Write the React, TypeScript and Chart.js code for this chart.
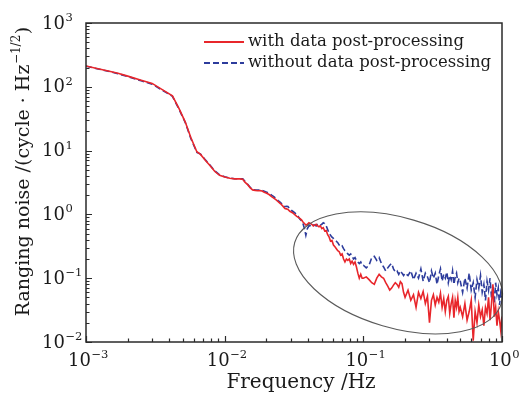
import React, { useEffect, useRef } from 'react';
import { Chart, registerables } from 'chart.js';

Chart.register(...registerables);

// ---------- data (frequency in Hz, noise in cycle/Hz^1/2) ----------
const freqA = [0.001, 0.0012, 0.0015, 0.0017, 0.002, 0.0025, 0.003, 0.0035, 0.0042, 0.0047, 0.0052, 0.0057, 0.0063, 0.0067, 0.0072, 0.0078, 0.0085, 0.0092, 0.01, 0.0109, 0.0118, 0.0128, 0.0135];
const withA = [212, 194, 174, 163, 147, 127, 113, 92, 72, 45, 28, 16, 9.6, 8.7, 7.2, 5.9, 4.7, 4.1, 3.85, 3.68, 3.6, 3.6, 3.55];
const withoutA = [210, 192, 172, 160, 145, 124, 110, 90, 71, 44, 27.5, 15.5, 9.4, 8.8, 7.3, 6.0, 4.8, 4.15, 3.9, 3.7, 3.62, 3.62, 3.6];

const freqB = [0.014, 0.0147, 0.0153, 0.0159, 0.0166, 0.0173, 0.018, 0.0186, 0.0193, 0.0201,
  0.0209, 0.0218, 0.0226, 0.0234, 0.0243, 0.0252, 0.0262, 0.0272, 0.0279, 0.0286,
  0.0295, 0.0304, 0.0313, 0.0322, 0.0331, 0.034, 0.0348, 0.0358, 0.0367, 0.0376,
  0.0385, 0.0395, 0.0405, 0.0415, 0.0425, 0.0436, 0.0446, 0.0457, 0.0468, 0.0479,
  0.049, 0.0502, 0.0514, 0.0527, 0.054, 0.0553, 0.0567, 0.058, 0.0594, 0.0609,
  0.0624, 0.0639, 0.0654, 0.067, 0.0686, 0.0703, 0.072, 0.0737, 0.0755, 0.0773,
  0.0792, 0.0811, 0.083, 0.085, 0.0871, 0.0892, 0.0913, 0.0935, 0.0958, 0.098];
const withB = [3.2, 2.9, 2.6, 2.42, 2.38, 2.35, 2.36, 2.32, 2.22, 2.15,
  2.05, 1.9, 1.8, 1.7, 1.58, 1.48, 1.36, 1.24, 1.22, 1.2,
  1.12, 1.08, 1.04, 0.98, 0.93, 0.9, 0.87, 0.82, 0.76, 0.72,
  0.68, 0.7, 0.74, 0.72, 0.7, 0.66, 0.68, 0.7, 0.66, 0.64,
  0.66, 0.6, 0.62, 0.55, 0.56, 0.48, 0.44, 0.38, 0.39, 0.33,
  0.31, 0.29, 0.27, 0.26, 0.23, 0.24, 0.2, 0.18, 0.2, 0.19,
  0.2, 0.17, 0.185, 0.165, 0.18, 0.15, 0.12, 0.1, 0.115, 0.1];
const withoutB = [3.3, 2.95, 2.65, 2.45, 2.42, 2.4, 2.42, 2.38, 2.3, 2.22,
  2.15, 2.0, 1.9, 1.78, 1.65, 1.55, 1.42, 1.32, 1.34, 1.33,
  1.22, 1.15, 1.1, 1.05, 0.98, 0.92, 0.85, 0.8, 0.72, 0.6,
  0.47, 0.6, 0.66, 0.66, 0.64, 0.68, 0.68, 0.66, 0.7, 0.72,
  0.68, 0.7, 0.74, 0.72, 0.66, 0.58, 0.5, 0.47, 0.44, 0.42,
  0.4, 0.38, 0.36, 0.33, 0.31, 0.32, 0.29, 0.27, 0.26, 0.24,
  0.23, 0.24, 0.22, 0.2, 0.21, 0.19, 0.18, 0.17, 0.18, 0.16];

const freqC = [0.1, 0.105, 0.11, 0.115, 0.12, 0.125, 0.13, 0.135, 0.14, 0.145,
  0.15, 0.155, 0.16, 0.165, 0.17, 0.175, 0.18, 0.185, 0.19, 0.195];
const withC = [0.1, 0.105, 0.095, 0.085, 0.08, 0.1, 0.115, 0.105, 0.1, 0.085,
  0.075, 0.065, 0.07, 0.078, 0.085, 0.08, 0.072, 0.088, 0.082, 0.06];
const withoutC = [0.16, 0.145, 0.16, 0.21, 0.22, 0.19, 0.21, 0.17, 0.15, 0.13,
  0.145, 0.16, 0.17, 0.14, 0.125, 0.13, 0.115, 0.13, 0.12, 0.11];

const freqD = [0.2, 0.21, 0.22, 0.23, 0.24, 0.25, 0.26, 0.27, 0.28, 0.29,
  0.3, 0.31, 0.32, 0.33, 0.34, 0.35, 0.36, 0.37, 0.38, 0.39,
  0.4, 0.41, 0.42, 0.43, 0.44, 0.45, 0.46, 0.47, 0.48, 0.49];
const withD = [0.05, 0.065, 0.045, 0.055, 0.035, 0.06, 0.048, 0.062, 0.04, 0.052,
  0.02, 0.045, 0.055, 0.038, 0.05, 0.042, 0.058, 0.035, 0.048, 0.03,
  0.045, 0.052, 0.028, 0.04, 0.05, 0.024, 0.045, 0.035, 0.05, 0.03];
const withoutD = [0.12, 0.11, 0.13, 0.095, 0.12, 0.1, 0.14, 0.09, 0.12, 0.105,
  0.085, 0.13, 0.1, 0.12, 0.08, 0.11, 0.14, 0.09, 0.115, 0.1,
  0.125, 0.085, 0.11, 0.095, 0.13, 0.08, 0.105, 0.12, 0.085, 0.1];

const freqE = [0.5, 0.52, 0.54, 0.56, 0.58, 0.6, 0.62, 0.64, 0.66, 0.68,
  0.7, 0.72, 0.74, 0.76, 0.78, 0.8, 0.82, 0.84, 0.86, 0.88,
  0.9, 0.92, 0.94, 0.96, 0.98, 1.0];
const withE = [0.035, 0.025, 0.04, 0.022, 0.03, 0.045, 0.0105, 0.03, 0.02, 0.038,
  0.025, 0.032, 0.018, 0.035, 0.028, 0.05, 0.022, 0.04, 0.08, 0.025,
  0.035, 0.018, 0.03, 0.022, 0.015, 0.025];
const withoutE = [0.09, 0.06, 0.1, 0.07, 0.12, 0.065, 0.085, 0.05, 0.095, 0.07,
  0.11, 0.06, 0.08, 0.045, 0.09, 0.065, 0.1, 0.05, 0.075, 0.04,
  0.085, 0.055, 0.07, 0.038, 0.06, 0.05];

const frequencies = [...freqA, ...freqB, ...freqC, ...freqD, ...freqE];
const withPost = [...withA, ...withB, ...withC, ...withD, ...withE];
const withoutPost = [...withoutA, ...withoutB, ...withoutC, ...withoutD, ...withoutE];

const seriesLabels = ['with data post-processing', 'without data post-processing'];
const xTickExponents = [-3, -2, -1, 0];
const yTickExponents = [-2, -1, 0, 1, 2, 3];
const xTitle = 'Frequency /Hz';
const yTitleMain = 'Ranging noise /(cycle \u00B7 Hz';
const yTitleSup = '\u22121/2';
const yTitleEnd = ')';

// highlighted region (data units for centre, x-decades for semi-axes)
const ellipseCenter = { f: 0.178, v: 0.121 };
const ellipseAxesDecades = { a: 0.777, b: 0.397 };
const ellipseAngleDeg = 16.4;

// ---------- styling ----------
const FONT = '"DejaVu Serif", "Liberation Serif", serif';
const RED = '#e8262b';
const BLUE = '#2d3c9c';
const INK = '#1a1a1a';

function supText(e: number) {
  return e < 0 ? '\u2212' + Math.abs(e) : String(e);
}

function drawPow(ctx: CanvasRenderingContext2D, exp: number, x: number, y: number, center: boolean, baseSize: number, supSize: number, raise: number) {
  const base = '10';
  const sup = supText(exp);
  ctx.font = `${baseSize}px ${FONT}`;
  const wb = ctx.measureText(base).width;
  ctx.font = `${supSize}px ${FONT}`;
  const ws = ctx.measureText(sup).width;
  const x0 = center ? x - (wb + ws) / 2 : x;
  ctx.textAlign = 'left';
  ctx.textBaseline = 'alphabetic';
  ctx.font = `${baseSize}px ${FONT}`;
  ctx.fillText(base, x0, y);
  ctx.font = `${supSize}px ${FONT}`;
  ctx.fillText(sup, x0 + wb + 0.5, y - raise);
}

const overlayPlugin = {
  id: 'overlay',
  afterDraw(chart: any) {
    const { ctx, chartArea: ca, scales } = chart;
    const xs = scales.x;
    const ys = scales.y;
    ctx.save();

    // ellipse annotation
    const decX = xs.getPixelForValue(10) - xs.getPixelForValue(1);
    const cx = xs.getPixelForValue(ellipseCenter.f);
    const cy = ys.getPixelForValue(ellipseCenter.v);
    ctx.beginPath();
    ctx.ellipse(cx, cy, ellipseAxesDecades.a * decX, ellipseAxesDecades.b * decX, (ellipseAngleDeg * Math.PI) / 180, 0, Math.PI * 2);
    ctx.strokeStyle = '#5a5a5a';
    ctx.lineWidth = 1.1;
    ctx.stroke();

    // frame
    ctx.strokeStyle = '#2a2a2a';
    ctx.lineWidth = 1.5;
    ctx.strokeRect(ca.left, ca.top, ca.right - ca.left, ca.bottom - ca.top);

    // ticks (inward)
    ctx.lineWidth = 1.2;
    ctx.beginPath();
    for (let e = -3; e <= 0; e++) {
      for (let k = 1; k <= 9; k++) {
        const v = k * Math.pow(10, e);
        if (v > 1.0001) continue;
        const px = Math.round(xs.getPixelForValue(v)) + 0.5;
        const len = k === 1 ? 6 : 3.5;
        ctx.moveTo(px, ca.bottom);
        ctx.lineTo(px, ca.bottom - len);
      }
    }
    for (let e = -2; e <= 3; e++) {
      for (let k = 1; k <= 9; k++) {
        const v = k * Math.pow(10, e);
        if (v > 1000.1) continue;
        const py = Math.round(ys.getPixelForValue(v)) + 0.5;
        const len = k === 1 ? 6 : 3.5;
        ctx.moveTo(ca.left, py);
        ctx.lineTo(ca.left + len, py);
      }
    }
    ctx.stroke();

    // tick labels
    ctx.fillStyle = INK;
    for (const e of yTickExponents) {
      const py = ys.getPixelForValue(Math.pow(10, e));
      drawPow(ctx, e, ca.left - 44, py + 5.5, false, 18, 11.5, 7.5);
    }
    for (const e of xTickExponents) {
      const px = xs.getPixelForValue(Math.pow(10, e));
      drawPow(ctx, e, px + 2, ca.bottom + 24, true, 18, 11.5, 8.5);
    }

    // axis titles
    ctx.font = `20px ${FONT}`;
    ctx.textAlign = 'center';
    ctx.textBaseline = 'alphabetic';
    ctx.fillText(xTitle, (ca.left + ca.right) / 2 + 7, ca.bottom + 46);

    ctx.save();
    ctx.translate(29, (ca.top + ca.bottom) / 2 - 11);
    ctx.rotate(-Math.PI / 2);
    ctx.font = `19px ${FONT}`;
    const w1 = ctx.measureText(yTitleMain).width;
    const w3 = ctx.measureText(yTitleEnd).width;
    ctx.font = `12px ${FONT}`;
    const w2 = ctx.measureText(yTitleSup).width;
    const total = w1 + w2 + w3 + 1;
    let tx = -total / 2;
    ctx.textAlign = 'left';
    ctx.font = `19px ${FONT}`;
    ctx.fillText(yTitleMain, tx, 0);
    tx += w1 + 0.5;
    ctx.font = `12px ${FONT}`;
    ctx.fillText(yTitleSup, tx, -9);
    tx += w2 + 0.5;
    ctx.font = `19px ${FONT}`;
    ctx.fillText(yTitleEnd, tx, 0);
    ctx.restore();

    // legend
    const ds = chart.data.datasets;
    const lx = ca.left + 118;
    const ly0 = ca.top + 19;
    for (let i = 0; i < ds.length; i++) {
      const y = ly0 + i * 21;
      ctx.beginPath();
      ctx.strokeStyle = ds[i].borderColor;
      ctx.lineWidth = 1.8;
      ctx.setLineDash(ds[i].borderDash || []);
      ctx.moveTo(lx, y);
      ctx.lineTo(lx + 40, y);
      ctx.stroke();
      ctx.setLineDash([]);
      ctx.fillStyle = INK;
      ctx.font = `16.5px ${FONT}`;
      ctx.textAlign = 'left';
      ctx.textBaseline = 'middle';
      ctx.fillText(ds[i].label, lx + 44, y);
    }

    ctx.restore();
  },
};

export default function App() {
  const canvasRef = useRef<HTMLCanvasElement | null>(null);

  useEffect(() => {
    const canvas = canvasRef.current;
    if (!canvas) return;
    const toPoints = (vals: number[]) => frequencies.map((f, i) => ({ x: f, y: vals[i] }));
    const chart = new Chart(canvas, {
      type: 'line',
      data: {
        datasets: [
          {
            label: seriesLabels[0],
            data: toPoints(withPost),
            borderColor: RED,
            borderWidth: 1.6,
            pointRadius: 0,
            tension: 0,
          },
          {
            label: seriesLabels[1],
            data: toPoints(withoutPost),
            borderColor: BLUE,
            borderWidth: 1.6,
            borderDash: [6, 3],
            pointRadius: 0,
            tension: 0,
          },
        ],
      },
      options: {
        responsive: false,
        devicePixelRatio: 1,
        animation: false,
        parsing: false,
        layout: { padding: { left: 86, right: 18, top: 23, bottom: 53 } },
        scales: {
          x: { type: 'logarithmic', min: 0.001, max: 1, display: false },
          y: { type: 'logarithmic', min: 0.01, max: 1000, display: false },
        },
        plugins: {
          legend: { display: false },
          tooltip: { enabled: false },
        },
      },
      plugins: [overlayPlugin],
    } as any);
    return () => chart.destroy();
  }, []);

  return (
    <div style={{ position: 'absolute', left: 0, top: 0, width: 520, height: 395, background: '#fff' }}>
      <canvas ref={canvasRef} width={520} height={395} style={{ display: 'block' }} />
    </div>
  );
}
